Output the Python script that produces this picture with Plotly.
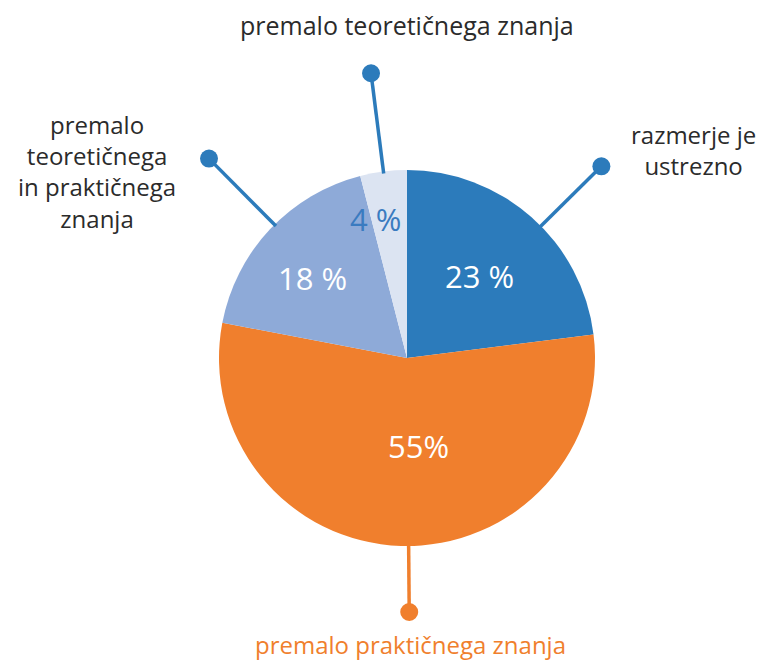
import math
import plotly.graph_objects as go

categories = ["razmerje je<br>ustrezno", "premalo praktičnega znanja",
              "premalo<br>teoretičnega<br>in praktičnega<br>znanja", "premalo teoretičnega znanja"]
values = [23, 55, 18, 4]
pct_labels = ["23 %", "55%", "18 %", "4 %"]

colors = ["#2c7bbb", "#f07f2d", "#8eaad8", "#dce4f2"]
pct_colors = ["white", "white", "white", "#3a7bc0"]
leader_colors = ["#2c7bbb", "#f07f2d", "#2c7bbb", "#2c7bbb"]
label_colors = ["#2b2b2b", "#f07f2d", "#2b2b2b", "#2b2b2b"]

OFF = 8  # page body margin
W, H = 764 - OFF, 664 - OFF
cx, cy, R = 407 - OFF, 358 - OFF, 188

# style / layout tuning per slice
pct_rfrac = [0.58, 0.47, 0.66, 0.76]
pct_ang_adj = [0, -9, -3, -5.7]
lead_ang_adj = [4, -2.3, 2, 0]
lead_len = [273, 254, 281, 287]
label_pos = [(693 - OFF, 150 - OFF), (410 - OFF, 644 - OFF), (97 - OFF, 171 - OFF), (407 - OFF, 25 - OFF)]
label_sizes = [24, 24, 24, 25]

fig = go.Figure()
fig.add_trace(go.Pie(
    values=values, labels=categories, sort=False, direction="clockwise", rotation=0,
    marker=dict(colors=colors, line=dict(width=0)),
    textinfo="none", hoverinfo="skip", showlegend=False,
    domain=dict(x=[(cx - R) / W, (cx + R) / W], y=[(H - cy - R) / H, (H - cy + R) / H]),
))

total = sum(values)
cum = 0
for i, v in enumerate(values):
    mid = (cum + v / 2) / total * 360
    cum += v
    # percentage label
    a = math.radians(mid + pct_ang_adj[i])
    r = R * pct_rfrac[i]
    fig.add_annotation(x=cx + r * math.sin(a), y=cy - r * math.cos(a), text=pct_labels[i],
                       showarrow=False, xref="x", yref="y",
                       font=dict(family="Open Sans", size=31, color=pct_colors[i]))
    # leader line and dot
    a = math.radians(mid + lead_ang_adj[i])
    x0, y0 = cx + (R - 2) * math.sin(a), cy - (R - 2) * math.cos(a)
    x1, y1 = cx + lead_len[i] * math.sin(a), cy - lead_len[i] * math.cos(a)
    fig.add_shape(type="line", x0=x0, y0=y0, x1=x1, y1=y1, xref="x", yref="y",
                  line=dict(color=leader_colors[i], width=3.5))
    fig.add_shape(type="circle", x0=x1 - 9, y0=y1 - 9, x1=x1 + 9, y1=y1 + 9, xref="x", yref="y",
                  line=dict(width=0), fillcolor=leader_colors[i])
    lx, ly = label_pos[i]
    fig.add_annotation(x=lx, y=ly, text=categories[i], showarrow=False, xref="x", yref="y",
                       align="center",
                       font=dict(family="Open Sans", size=label_sizes[i], color=label_colors[i]))

fig.update_layout(
    width=W, height=H, margin=dict(l=0, r=0, t=0, b=0),
    paper_bgcolor="white", plot_bgcolor="rgba(0,0,0,0)",
    xaxis=dict(range=[0, W], visible=False, fixedrange=True),
    yaxis=dict(range=[H, 0], visible=False, fixedrange=True),
)
fig.write_html("out.html")
